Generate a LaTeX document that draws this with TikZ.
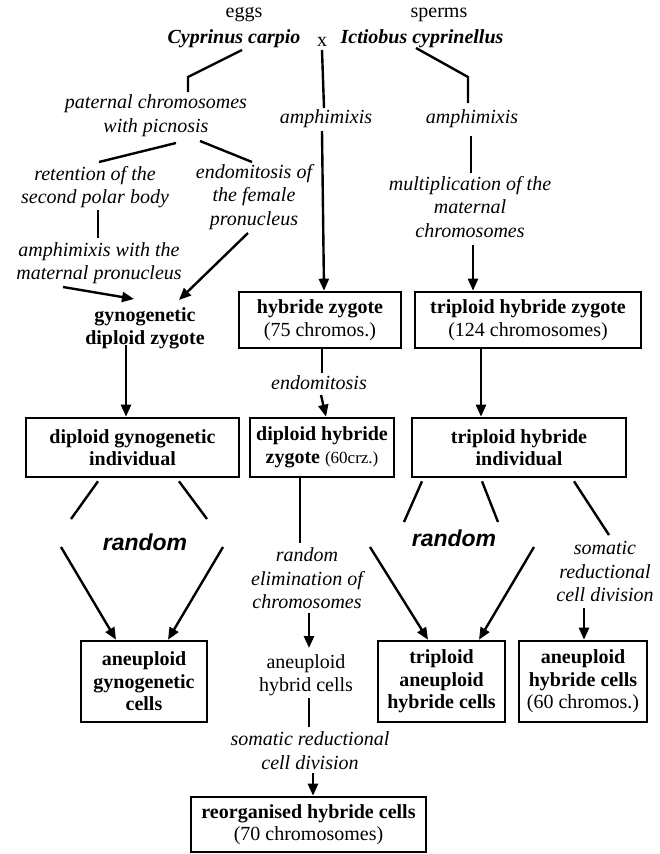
\documentclass[tikz,border=0pt]{standalone}
\usepackage{fontspec}
\setmainfont{Liberation Serif}
\newfontfamily\rndfont{Liberation Sans}
\usetikzlibrary{arrows.meta,calc}
\begin{document}
\begin{tikzpicture}[x=1pt,y=-1pt,
  base/.style={font=\fontsize{20}{23.5}\selectfont, align=center, inner sep=0pt},
  lab/.style={base, font=\fontsize{20}{23.5}\selectfont\itshape},
  plain/.style={base},
  title/.style={base, font=\fontsize{20}{23.5}\selectfont\bfseries\itshape},
  bold/.style={base, font=\fontsize{20}{23.5}\selectfont\bfseries},
  rnd/.style={base, font=\fontsize{23}{26}\rndfont\bfseries\itshape},
  bx/.style={draw, line width=2.6pt, align=center, inner sep=0pt, font=\fontsize{20}{22.5}\selectfont\bfseries},
  ln/.style={line width=2.4pt},
  arr/.style={ln, -{Triangle[length=12pt,width=10pt]}}
]
\useasboundingbox (0,0) rectangle (659,854);

% texts
\node[plain] (eggs) at (244,15) {eggs};
\node[plain] (sperms) at (439,15) {sperms};
\node[title] (cc) at (234,39) {Cyprinus carpio};
\node[plain] (xx) at (322,42) {x};
\node[title] (ic) at (422,39) {Ictiobus cyprinellus};
\node[lab] (pc) at (156,115.5) {paternal chromosomes\\with picnosis};
\node[lab] (am1) at (326,119) {amphimixis};
\node[lab] (am2) at (472,119) {amphimixis};
\node[lab] (rt) at (95,187) {retention of the\\second polar body};
\node[lab] (ef) at (254,197) {endomitosis of\\the female\\pronucleus};
\node[lab] (mm) at (470,207) {multiplication of the\\maternal\\chromosomes};
\node[lab] (aw) at (99,263) {amphimixis with the\\maternal pronucleus};
\node[bold] (gdz) at (145,328.5) {gynogenetic\\diploid zygote};
\node[lab] (endo) at (319,383) {endomitosis};
\node[rnd] (r1) at (145,542) {random};
\node[rnd] (r2) at (454,538) {random};
\node[lab] (rec) at (307,578.5) {random\\elimination of\\chromosomes};
\node[lab] (srd) at (605,571.5) {somatic\\reductional\\cell division};
\node[plain] (ahcl) at (306,675) {aneuploid\\hybrid cells};
\node[lab] (src) at (310,750.5) {somatic reductional\\cell division};

% boxes
\node[bx, minimum width=162pt, minimum height=56pt] (hz) at (320,320) {hybride zygote\\{\mdseries(75 chromos.)}};
\node[bx, minimum width=226pt, minimum height=56pt] (thz) at (528,320) {triploid hybride zygote\\{\mdseries(124 chromosomes)}};
\node[bx, minimum width=213pt, minimum height=59pt] (dgi) at (132.5,447.5) {diploid gynogenetic\\individual};
\node[bx, minimum width=144pt, minimum height=59pt] (dhz) at (322,447.5) {diploid hybride\\zygote {\mdseries\fontsize{17}{20}\selectfont(60crz.)}};
\node[bx, minimum width=214pt, minimum height=59pt] (thi) at (519,447.5) {triploid hybride\\individual};
\node[bx, minimum width=126pt, minimum height=81pt] (agc) at (144,681.5) {aneuploid\\gynogenetic\\cells};
\node[bx, minimum width=127pt, minimum height=81pt] (tahc) at (441.5,681.5) {triploid\\aneuploid\\hybride cells};
\node[bx, minimum width=128pt, minimum height=81pt] (ahc) at (583,681.5) {aneuploid\\hybride cells\\{\mdseries(60 chromos.)}};
\node[bx, minimum width=235pt, minimum height=55pt] (rhc) at (308.5,824.5) {reorganised hybride cells\\{\mdseries(70 chromosomes)}};

% bend points
\coordinate (b1) at (188,77);
\coordinate (b2) at (468,77);

% connectors
\draw[ln] ($(cc.center)+(8,11)$) -- (b1) -- ($(pc.center)+(32,-23.5)$);
\draw[ln] ($(xx.center)+(0,8)$) -- ($(am1.center)+(-2,-11)$);
\draw[arr] ($(am1.center)+(-4,12)$) -- ($(hz.north)+(4,0)$);
\draw[ln] ($(ic.center)+(-6,9)$) -- (b2) -- ($(am2.center)+(-4,-16)$);
\draw[ln] ($(pc.center)+(20,27.5)$) -- ($(rt.center)+(4,-25)$);
\draw[ln] ($(pc.center)+(44,25.5)$) -- ($(ef.center)+(-2,-35)$);
\draw[ln] ($(am2.center)+(-1,17)$) -- ($(mm.center)+(1,-34)$);
\draw[arr] ($(mm.center)+(3,38)$) -- ($(thz.north)+(-55,0)$);
\draw[ln] ($(rt.center)+(3,23)$) -- ($(aw.center)+(-1,-25)$);
\draw[arr] ($(aw.center)+(-36,24)$) -- ($(gdz.center)+(-11,-29.5)$);
\draw[arr] ($(ef.center)+(-6,36)$) -- ($(gdz.center)+(34,-28.5)$);
\draw[arr] ($(gdz.center)+(-19,16.5)$) -- ($(dgi.north)+(-6.5,0)$);
\draw[ln] ($(hz.south)+(2,0)$) -- ($(endo.center)+(3,-10)$);
\draw[arr] ($(endo.center)+(2,12)$) -- ($(dhz.north)+(4,0)$);
\draw[arr] ($(thz.south)+(-47,0)$) -- ($(thi.north)+(-38,0)$);
\draw[ln] ($(dgi.south)+(-34.5,3)$) -- ($(r1.center)+(-74,-23)$);
\draw[ln] ($(dgi.south)+(46.5,3)$) -- ($(r1.center)+(62,-23)$);
\draw[arr] ($(r1.center)+(-84,5)$) -- ($(agc.north)+(-28,0)$);
\draw[arr] ($(r1.center)+(78,5)$) -- ($(agc.north)+(24,0)$);
\draw[ln] ($(dhz.south)+(-22,0)$) -- ($(rec.center)+(-7,-35.5)$);
\draw[arr] ($(rec.center)+(2,34.5)$) -- ($(ahcl.center)+(3,-27)$);
\draw[ln] ($(ahcl.center)+(3,23)$) -- ($(src.center)+(-1,-23.5)$);
\draw[arr] ($(src.center)+(3,22.5)$) -- ($(rhc.north)+(4.5,0)$);
\draw[ln] ($(thi.south)+(-97,3)$) -- ($(r2.center)+(-50,-16)$);
\draw[ln] ($(thi.south)+(-37,3)$) -- ($(r2.center)+(44,-16)$);
\draw[ln] ($(thi.south)+(55,3)$) -- ($(srd.center)+(4,-36.5)$);
\draw[arr] ($(r2.center)+(-84,9)$) -- ($(tahc.north)+(-13.5,0)$);
\draw[arr] ($(r2.center)+(80,9)$) -- ($(tahc.north)+(37.5,0)$);
\draw[arr] ($(srd.center)+(-21,36.5)$) -- ($(ahc.north)+(1,0)$);
\end{tikzpicture}
\end{document}
